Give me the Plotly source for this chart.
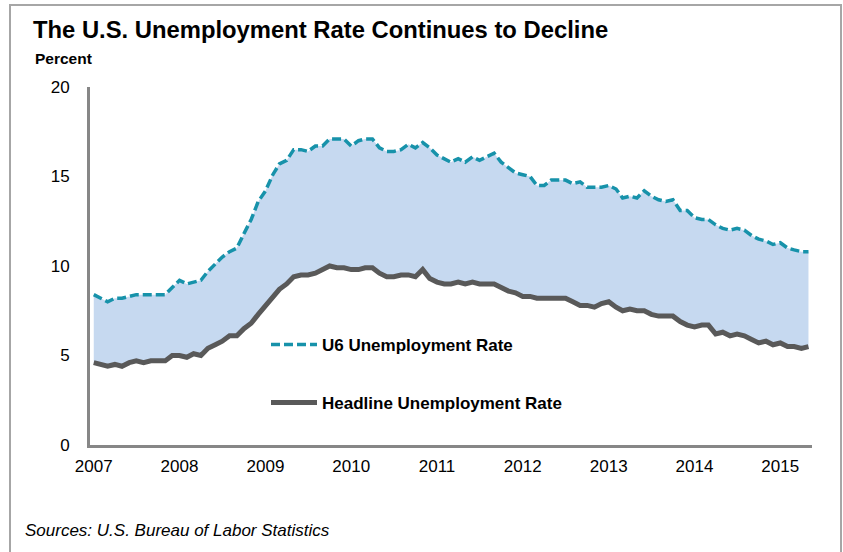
import pandas as pd
import plotly.graph_objects as go

# Monthly data, Jan 2007 - May 2015 (percent)
headline = [
    4.6, 4.5, 4.4, 4.5, 4.4, 4.6, 4.7, 4.6, 4.7, 4.7, 4.7, 5.0,   # 2007
    5.0, 4.9, 5.1, 5.0, 5.4, 5.6, 5.8, 6.1, 6.1, 6.5, 6.8, 7.3,   # 2008
    7.8, 8.3, 8.7, 9.0, 9.4, 9.5, 9.5, 9.6, 9.8, 10.0, 9.9, 9.9,  # 2009
    9.8, 9.8, 9.9, 9.9, 9.6, 9.4, 9.4, 9.5, 9.5, 9.4, 9.8, 9.3,   # 2010
    9.1, 9.0, 9.0, 9.1, 9.0, 9.1, 9.0, 9.0, 9.0, 8.8, 8.6, 8.5,   # 2011
    8.3, 8.3, 8.2, 8.2, 8.2, 8.2, 8.2, 8.0, 7.8, 7.8, 7.7, 7.9,   # 2012
    8.0, 7.7, 7.5, 7.6, 7.5, 7.5, 7.3, 7.2, 7.2, 7.2, 6.9, 6.7,   # 2013
    6.6, 6.7, 6.7, 6.2, 6.3, 6.1, 6.2, 6.1, 5.9, 5.7, 5.8, 5.6,   # 2014
    5.7, 5.5, 5.5, 5.4, 5.5,                                      # 2015
]
u6 = [
    8.4, 8.2, 8.0, 8.2, 8.2, 8.3, 8.4, 8.4, 8.4, 8.4, 8.4, 8.8,
    9.2, 9.0, 9.1, 9.2, 9.7, 10.1, 10.5, 10.8, 11.0, 11.8, 12.6, 13.6,
    14.2, 15.1, 15.7, 15.9, 16.5, 16.5, 16.4, 16.7, 16.7, 17.1, 17.1, 17.1,
    16.7, 17.0, 17.1, 17.1, 16.6, 16.4, 16.4, 16.5, 16.8, 16.6, 16.9, 16.6,
    16.2, 16.0, 15.8, 16.0, 15.8, 16.1, 15.9, 16.1, 16.3, 15.8, 15.5, 15.2,
    15.1, 15.0, 14.5, 14.5, 14.8, 14.8, 14.8, 14.6, 14.7, 14.4, 14.4, 14.4,
    14.5, 14.3, 13.8, 13.9, 13.8, 14.2, 13.9, 13.7, 13.6, 13.7, 13.1, 13.1,
    12.7, 12.6, 12.6, 12.3, 12.1, 12.0, 12.1, 12.0, 11.7, 11.5, 11.4, 11.2,
    11.3, 11.0, 10.9, 10.8, 10.8,
]
start_month = "2007-01-01"
months = pd.date_range(start_month, periods=len(u6), freq="MS")
year_labels = ["2007", "2008", "2009", "2010", "2011", "2012", "2013", "2014", "2015"]
y_ticks = [0, 5, 10, 15, 20]

FONT = "Liberation Sans, Arial, sans-serif"
U6_COLOR = "#1792AA"
HEAD_COLOR = "#595959"
FILL_COLOR = "#C6D9F0"
AXIS_COLOR = "#878787"

W, H = 843, 552
L, R, T, B = 90, 31, 87, 107
pw, ph = W - L - R, H - T - B


def px_x(x):
    return (x - L) / pw


def px_y(y):
    return (H - B - y) / ph


fig = go.Figure()

# shaded band between the two series
fig.add_trace(go.Scatter(x=months, y=headline, mode="lines", line=dict(width=0),
                         showlegend=False, hoverinfo="skip"))
fig.add_trace(go.Scatter(x=months, y=u6, mode="lines", line=dict(width=0),
                         fill="tonexty", fillcolor=FILL_COLOR,
                         showlegend=False, hoverinfo="skip"))

fig.add_trace(go.Scatter(x=months, y=u6, mode="lines", name="U6 Unemployment Rate",
                         line=dict(color=U6_COLOR, width=3.5, dash="9px,4px"),
                         legend="legend"))
fig.add_trace(go.Scatter(x=months, y=headline, mode="lines",
                         name="Headline Unemployment Rate",
                         line=dict(color=HEAD_COLOR, width=5),
                         legend="legend2"))

tick_dates = [pd.Timestamp(f"{y}-01-01") for y in year_labels]

legend_font = dict(family=FONT, size=17, color="#000000", weight="bold")

fig.update_layout(
    width=W, height=H,
    margin=dict(l=L, r=R, t=T, b=B, autoexpand=False),
    paper_bgcolor="white", plot_bgcolor="white",
    font=dict(family=FONT, size=17, color="#000000"),
    title=dict(text="<b>The U.S. Unemployment Rate Continues to Decline</b>",
               font=dict(family=FONT, size=23.8, color="#000000"),
               xref="container", yref="container",
               x=33 / W, xanchor="left", y=1 - 30 / H, yanchor="middle"),
    xaxis=dict(
        type="date",
        range=[pd.Timestamp("2006-12-16"), pd.Timestamp("2015-05-16")],
        tickvals=tick_dates, ticktext=year_labels,
        showgrid=False, zeroline=False,
        showline=True, linecolor=AXIS_COLOR, linewidth=3,
        ticks="", ticklabelstandoff=4,
        tickfont=dict(family=FONT, size=17, color="#000000"),
    ),
    yaxis=dict(
        range=[0, 20], tickvals=y_ticks,
        showgrid=False, zeroline=False,
        showline=True, linecolor=AXIS_COLOR, linewidth=3,
        ticks="", ticklabelstandoff=14,
        tickfont=dict(family=FONT, size=17, color="#000000"),
    ),
    legend=dict(x=px_x(266), xanchor="left", y=px_y(345), yanchor="middle",
                bgcolor="rgba(0,0,0,0)", font=legend_font, itemwidth=46),
    legend2=dict(x=px_x(266), xanchor="left", y=px_y(403), yanchor="middle",
                 bgcolor="rgba(0,0,0,0)", font=legend_font, itemwidth=46),
    showlegend=True,
    annotations=[
        dict(text="<b>Percent</b>", xref="paper", yref="paper",
             x=px_x(33), y=px_y(59), xanchor="left", yanchor="middle",
             showarrow=False, font=dict(family=FONT, size=15.5, color="#000000")),
        dict(text="<i>Sources: U.S. Bureau of Labor Statistics</i>", xref="paper", yref="paper",
             x=px_x(23), y=px_y(530), xanchor="left", yanchor="middle",
             showarrow=False, font=dict(family=FONT, size=17, color="#000000")),
    ],
    shapes=[
        dict(type="rect", xref="paper", yref="paper",
             x0=px_x(10), x1=px_x(841), y0=px_y(5), y1=px_y(570),
             line=dict(color="#A6A6A6", width=2), fillcolor="rgba(0,0,0,0)",
             layer="below"),
    ],
)

fig.write_html(
    "out.html",
    config={"displayModeBar": False},
    post_script="document.body.style.margin='0';document.body.style.overflow='hidden';",
)
